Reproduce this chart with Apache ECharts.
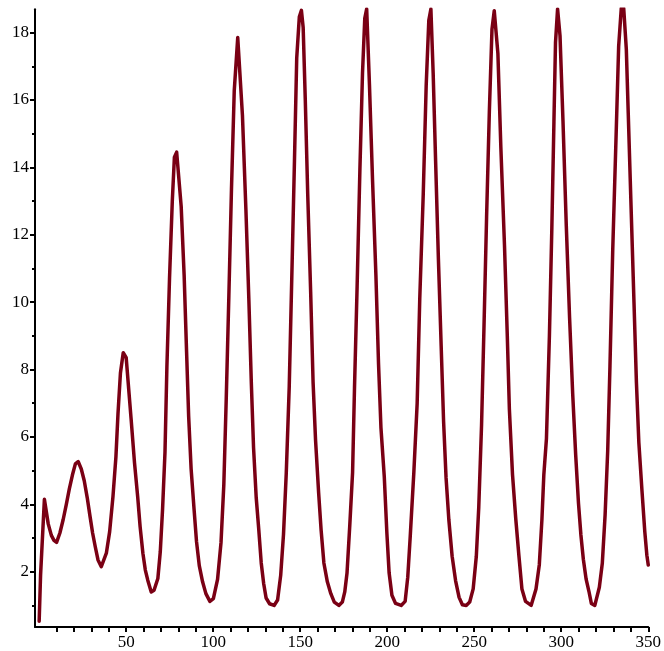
<!DOCTYPE html>
<html>
<head>
<meta charset="utf-8">
<script src="https://cdn.jsdelivr.net/npm/echarts@6/dist/echarts.min.js"></script>
<style>
html,body{margin:0;padding:0;background:#fff;}
#chart{width:664px;height:651px;}
</style>
</head>
<body>
<div id="chart"></div>
<script>
// x positions of the samples (axis units)
const xs = [0,0.8,3.0,5.2,7.0,8.5,10.0,11.9,13.8,15.6,
17.3,19.1,20.8,22.4,24.2,25.9,27.6,29.2,30.7,32.2,
33.8,35.7,38.6,40.5,42.4,44.1,45.3,46.7,48.3,50.0,
52.8,54.8,56.6,58.0,59.6,61.0,62.4,64.4,66.0,68.2,
69.6,70.9,72.3,73.4,74.9,76.5,77.7,79.0,81.6,83.3,
84.7,85.9,87.3,89.0,90.4,92.0,93.9,95.8,98.1,100.1,
102.5,104.5,106.1,107.5,109.0,110.5,112.1,114.1,116.8,118.8,
120.5,121.9,123.2,124.7,126.2,127.6,129.0,130.4,132.4,135.0,
137.0,138.8,140.4,142.0,143.7,145.3,146.7,148.0,149.5,150.7,
151.7,152.9,154.3,156.0,157.4,158.8,160.6,162.0,163.6,165.6,
167.6,169.6,172.2,174.2,175.6,176.9,178.5,180.1,181.2,182.7,
184.3,185.8,187.1,188.2,189.8,191.6,193.5,195.0,196.4,198.3,
199.8,201.1,202.7,204.8,208.0,210.3,211.8,213.2,215.3,217.2,
218.7,220.7,222.4,223.9,225.1,226.4,227.8,229.4,231.0,232.4,
233.8,235.4,237.3,239.3,241.3,243.2,245.4,247.4,249.4,251.2,
252.6,254.2,255.6,257.1,258.7,260.2,261.5,263.6,265.3,267.4,
269.0,270.2,272.0,273.9,275.7,277.4,279.5,282.7,285.5,287.4,
288.9,290.0,291.5,293.2,294.6,295.8,296.7,297.9,299.3,301.0,
302.9,304.8,306.6,308.3,309.9,311.3,312.7,314.3,315.9,317.3,
319.3,321.9,323.6,325.2,326.7,328.0,329.6,331.5,333.0,334.5,
335.9,337.4,338.5,340.1,341.8,343.2,344.6,346.4,348.0,349.2,
350];
// series values at those positions
const ys = [0.53,1.9,4.15,3.42,3.08,2.93,2.87,3.15,3.55,4.0,
4.45,4.87,5.2,5.27,5.05,4.7,4.2,3.65,3.15,2.75,
2.35,2.15,2.55,3.19,4.23,5.41,6.7,7.9,8.5,8.35,
6.55,5.22,4.23,3.34,2.55,2.05,1.75,1.4,1.45,1.8,
2.6,3.85,5.55,8.1,10.7,13.0,14.3,14.45,12.84,10.8,
8.53,6.61,5.06,3.86,2.9,2.18,1.7,1.35,1.12,1.2,
1.77,2.87,4.58,7.14,10.18,13.35,16.28,17.85,15.55,12.74,
10.06,7.62,5.67,4.21,3.24,2.26,1.65,1.22,1.05,1.0,
1.16,1.9,3.11,4.94,7.5,11.04,14.2,17.25,18.47,18.66,
18.15,16.04,13.23,10.31,7.62,5.92,4.33,3.24,2.26,1.7,
1.35,1.1,1.0,1.1,1.4,1.96,3.39,4.95,7.46,10.46,
13.93,16.8,18.42,18.7,16.44,13.57,10.8,8.18,6.27,4.83,
3.15,1.96,1.3,1.06,1.0,1.12,1.84,3.03,4.95,6.99,
10.1,13.2,16.44,18.36,18.7,16.8,14.2,11.3,8.7,6.45,
4.8,3.55,2.46,1.73,1.24,1.02,1.0,1.1,1.49,2.46,
3.91,6.34,9.25,12.52,15.68,18.1,18.65,17.38,14.59,11.67,
9.0,6.82,4.88,3.55,2.46,1.49,1.12,1.0,1.49,2.21,
3.55,4.88,5.95,9.0,12.2,15.35,17.7,18.7,17.9,15.38,
12.27,9.53,7.26,5.47,4.04,3.09,2.37,1.78,1.42,1.06,
1.0,1.54,2.25,3.68,5.59,8.1,11.56,14.9,17.6,18.72,
18.72,17.5,15.61,12.87,10.0,7.62,5.83,4.4,3.2,2.49,
2.2];

const xTickLabels = [50,100,150,200,250,300,350];
const xMinorTicks = [10,20,30,40,50,60,70,80,90,100,110,120,130,140,150,160,170,180,190,200,210,220,230,240,250,260,270,280,290,300,310,320,330,340,350];
const yTickLabels = [2,4,6,8,10,12,14,16,18];
const yMinorTicks = [1,3,5,7,9,11,13,15,17];

const chart = echarts.init(document.getElementById('chart'), null, {renderer:'canvas'});
const FONT = '"Liberation Serif","Times New Roman",serif';
const AX = {color:'#000', width:2};
const LINE_COLOR = '#7a0014';

chart.setOption({
  animation:false,
  backgroundColor:'#fff',
  grid:{left:35, right:13.3, top:9.3, bottom:24, containLabel:false},
  xAxis:[{
    type:'value', min:-2.4, max:350,
    splitLine:{show:false},
    axisLine:{show:true, onZero:false, lineStyle:AX},
    axisTick:{show:true, customValues:xMinorTicks, length:5, inside:false, lineStyle:AX},
    axisLabel:{show:true, customValues:xTickLabels, margin:7, color:'#000', fontFamily:FONT, fontSize:17,
      formatter:(v)=>String(v)}
  }],
  yAxis:[{
    type:'value', min:0.36, max:18.69, position:'left', offset:0,
    splitLine:{show:false},
    axisLine:{show:true, onZero:false, lineStyle:AX},
    axisTick:{show:true, customValues:yMinorTicks, length:3, lineStyle:AX},
    axisLabel:{show:false}
  },{
    type:'value', min:0.36, max:18.69, position:'left', offset:0,
    splitLine:{show:false},
    axisLine:{show:false, onZero:false},
    axisTick:{show:true, customValues:yTickLabels, length:5, lineStyle:AX},
    axisLabel:{show:true, customValues:yTickLabels, margin:6, color:'#000', fontFamily:FONT, fontSize:17,
      formatter:(v)=>String(v)}
  }],
  series:[{
    type:'line',
    xAxisIndex:0, yAxisIndex:0,
    data: xs.map((x,i)=>[x, ys[i]]),
    showSymbol:false,
    symbol:'none',
    lineStyle:{color:LINE_COLOR, width:3.5, join:'round', cap:'round'},
    silent:true
  }]
});
</script>
</body>
</html>
